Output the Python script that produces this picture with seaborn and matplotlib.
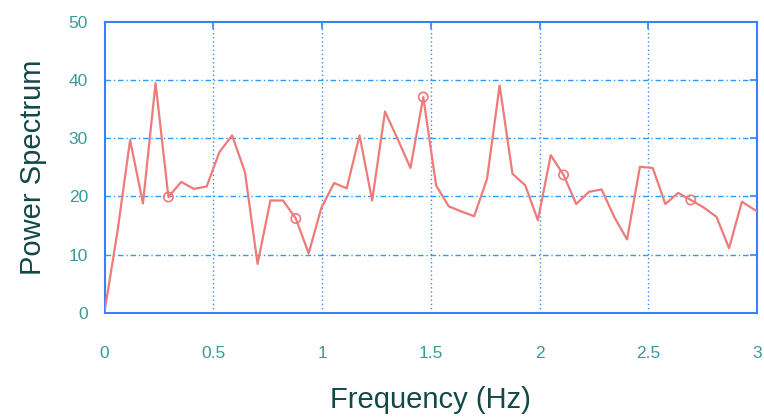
import matplotlib
matplotlib.use("Agg")
import matplotlib.pyplot as plt
import seaborn as sns
import pandas as pd

freq_hz = [0.000, 0.059, 0.117, 0.176, 0.234, 0.293, 0.352, 0.410, 0.469, 0.527,
           0.586, 0.645, 0.703, 0.762, 0.820, 0.879, 0.938, 0.996, 1.055, 1.113,
           1.172, 1.230, 1.289, 1.348, 1.406, 1.465, 1.524, 1.582, 1.641, 1.699,
           1.758, 1.816, 1.875, 1.934, 1.992, 2.051, 2.110, 2.168, 2.227, 2.285,
           2.344, 2.402, 2.461, 2.520, 2.578, 2.637, 2.695, 2.754, 2.813, 2.871,
           2.930, 2.988, 3.047]
power = [0.3, 14.0, 29.7, 18.8, 39.5, 19.9, 22.5, 21.3, 21.7, 27.6,
         30.5, 24.2, 8.4, 19.3, 19.3, 16.2, 10.2, 18.0, 22.3, 21.4,
         30.5, 19.3, 34.6, 29.8, 24.9, 37.1, 21.9, 18.3, 17.4, 16.6,
         23.0, 39.1, 23.9, 21.9, 15.9, 27.1, 23.7, 18.7, 20.8, 21.2,
         16.4, 12.6, 25.1, 24.9, 18.7, 20.6, 19.4, 18.1, 16.5, 11.1,
         19.1, 17.7, 16.5]
marked_idx = [5, 15, 25, 36, 46]

x_ticks = [0, 0.5, 1, 1.5, 2, 2.5, 3]
x_tick_labels = ["0", "0.5", "1", "1.5", "2", "2.5", "3"]
y_ticks = [0, 10, 20, 30, 40, 50]
y_tick_labels = ["0", "10", "20", "30", "40", "50"]

df = pd.DataFrame({"freq": freq_hz, "power": power})
dm = df.iloc[marked_idx]

sns.set_style("white")
plt.rcParams['font.family'] = ['Liberation Sans', 'DejaVu Sans']

fig = plt.figure(figsize=(7.64, 4.2), dpi=100)
ax = fig.add_axes([0.137, 0.2555, 0.854, 0.692])

line_col = "#ef7a7a"
sns.lineplot(data=df, x="freq", y="power", ax=ax, color=line_col, lw=1.6,
             zorder=3, estimator=None, sort=False)
sns.scatterplot(data=dm, x="freq", y="power", ax=ax, s=45, marker="o",
                facecolors="none", edgecolor=line_col, linewidth=1.2, zorder=4)

ax.set_xlim(0, 3)
ax.set_ylim(0, 50)
ax.set_xticks(x_ticks)
ax.set_xticklabels(x_tick_labels)
ax.set_yticks(y_ticks)
ax.set_yticklabels(y_tick_labels)

tick_col = "#3a9a98"
ax.tick_params(axis="both", direction="in", length=5, width=1.2, color="#3a7fff",
               labelsize=12.5, labelcolor=tick_col, top=True, right=True)
ax.tick_params(axis="x", pad=24)
ax.tick_params(axis="y", pad=12)

for sp in ax.spines.values():
    sp.set_color("#3a7fff")
    sp.set_linewidth(1.5)
    sp.set_visible(True)

for y in y_ticks[1:-1]:
    ax.axhline(y, color="#2a9cff", lw=1.0, ls=(0, (4, 2, 1, 2)), zorder=1)
for x in x_ticks[1:-1]:
    ax.axvline(x, color="#3a8cff", lw=1.0, ls=(0, (1, 2)), zorder=1)

label_col = "#134848"
ax.set_xlabel("Frequency (Hz)", fontsize=21, color=label_col)
ax.set_ylabel("Power Spectrum", fontsize=21, color=label_col)
ax.xaxis.set_label_coords(0.5, -0.252)
ax.yaxis.set_label_coords(-0.088, 0.5)

fig.savefig("out.png", dpi=100)
